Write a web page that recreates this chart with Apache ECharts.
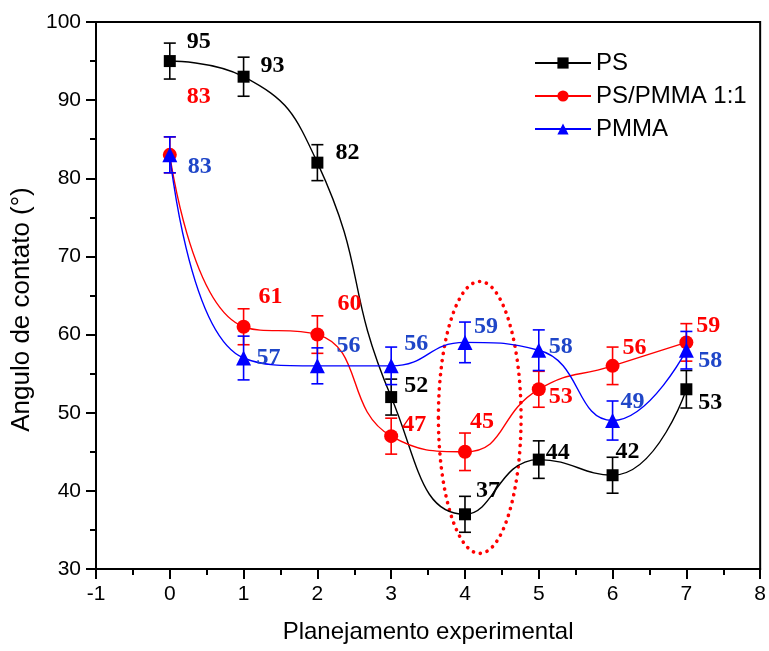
<!DOCTYPE html>
<html>
<head>
<meta charset="utf-8">
<script src="https://cdn.jsdelivr.net/npm/echarts@6/dist/echarts.min.js"></script>
<style>
  html, body { margin: 0; padding: 0; background: #fff; }
  #chart { width: 769px; height: 651px; }
</style>
</head>
<body>
<div id="chart"></div>
<script>
// Experimental runs (x) and contact angles (degrees)
const runs = [0, 1, 2, 3, 4, 5, 6, 7];
const psAngle = [95, 93, 82, 52, 37, 44, 42, 53];
const blendAngle = [83, 61, 60, 47, 45, 53, 56, 59];
const pmmaAngle = [83, 57, 56, 56, 59, 58, 49, 58];
const psErr = [2.3, 2.5, 2.3, 2.3, 2.3, 2.4, 2.3, 2.4];
const blendErr = [2.3, 2.3, 2.4, 2.3, 2.4, 2.3, 2.4, 2.4];
const pmmaErr = [2.3, 2.8, 2.3, 2.4, 2.6, 2.6, 2.5, 2.4];
const yTicks = [30, 40, 50, 60, 70, 80, 90, 100];
const xTicks = [-1, 0, 1, 2, 3, 4, 5, 6, 7, 8];

// Highlighted region (dotted ellipse): centre x, centre y, radius x, radius y (data units)
const highlight = [[4.2, 49.4, 0.56, 17.4]];

// Label shifts in pixels (dx, dy) from each marker
const psLabelShift = [[29, -19], [29, -11], [30, -10], [25, -11], [23, -24], [19, -7], [15, -23], [24, 14]];
const blendLabelShift = [[29, -58], [27, -30], [32, -31], [23, -11], [17, -30], [22, 8], [22, -18], [22, -17]];
const pmmaLabelShift = [[30, 12], [25, 0], [31, -20], [25, -22], [21, -16], [22, -3], [20, -19], [24, 11]];

const BLACK = '#000000', RED = '#ff0000', BLUE = '#0000ff', BLUE_TXT = '#1f46c8';
const SANS = '"Liberation Sans", Arial, sans-serif';

function pointData(vals, shifts, color) {
  return runs.map((x, i) => ({
    value: [x, vals[i]],
    label: {
      show: true,
      position: 'inside',
      offset: shifts[i],
      formatter: String(vals[i]),
      color: color,
      fontFamily: '"Liberation Serif", "Times New Roman", serif',
      fontWeight: 'bold',
      fontSize: 24
    }
  }));
}

function errData(vals, errs) {
  return runs.map((x, i) => [x, vals[i], errs[i]]);
}

function errRender(color) {
  return function (params, api) {
    const x = api.value(0), y = api.value(1), e = api.value(2);
    const top = api.coord([x, y + e]);
    const bot = api.coord([x, y - e]);
    const w = 6;
    const st = { stroke: color, lineWidth: 1.6 };
    return {
      type: 'group',
      children: [
        { type: 'line', shape: { x1: top[0], y1: top[1], x2: bot[0], y2: bot[1] }, style: st },
        { type: 'line', shape: { x1: top[0] - w, y1: top[1], x2: top[0] + w, y2: top[1] }, style: st },
        { type: 'line', shape: { x1: bot[0] - w, y1: bot[1], x2: bot[0] + w, y2: bot[1] }, style: st }
      ]
    };
  };
}

const chart = echarts.init(document.getElementById('chart'), null, { renderer: 'canvas' });

chart.setOption({
  animation: false,
  backgroundColor: '#fff',
  grid: { left: 96, right: 7, top: 22, bottom: 82, show: true, borderColor: '#000', borderWidth: 2, backgroundColor: 'transparent' },
  legend: {
    data: ['PS', 'PS/PMMA 1:1', 'PMMA'],
    orient: 'vertical',
    left: 529,
    top: 46,
    itemWidth: 56,
    itemHeight: 14,
    itemGap: 9,
    selectedMode: false,
    textStyle: { fontFamily: SANS, fontSize: 24, color: '#000' }
  },
  xAxis: {
    type: 'value',
    min: xTicks[0],
    max: xTicks[xTicks.length - 1],
    interval: 1,
    name: 'Planejamento experimental',
    nameLocation: 'middle',
    nameGap: 51,
    nameTextStyle: { fontFamily: SANS, color: '#000', fontSize: 24 },
    axisLine: { show: true, onZero: false, lineStyle: { color: '#000', width: 2 } },
    axisTick: { show: true, inside: false, length: 10, lineStyle: { color: '#000', width: 2 } },
    minorTick: { show: true, splitNumber: 2, length: 6, lineStyle: { color: '#000', width: 2 } },
    axisLabel: { fontFamily: SANS, color: '#000', fontSize: 21, margin: 15 },
    splitLine: { show: false }
  },
  yAxis: {
    type: 'value',
    min: yTicks[0],
    max: yTicks[yTicks.length - 1],
    interval: 10,
    name: 'Angulo de contato (°)',
    nameLocation: 'middle',
    nameGap: 60,
    nameRotate: 90,
    nameTextStyle: { fontFamily: SANS, color: '#000', fontSize: 26, padding: [0, 28, 0, 0] },
    axisLine: { show: true, onZero: false, lineStyle: { color: '#000', width: 2 } },
    axisTick: { show: true, inside: false, length: 10, lineStyle: { color: '#000', width: 2 } },
    minorTick: { show: true, splitNumber: 2, length: 6, lineStyle: { color: '#000', width: 2 } },
    axisLabel: { fontFamily: SANS, color: '#000', fontSize: 21, margin: 15 },
    splitLine: { show: false }
  },
  series: [
    {
      type: 'custom', name: 'ellipse', silent: true, z: 1,
      data: highlight,
      renderItem: function (params, api) {
        const c = api.coord([api.value(0), api.value(1)]);
        const s = api.size([api.value(2), api.value(3)]);
        return {
          type: 'ellipse',
          shape: { cx: c[0], cy: c[1], rx: s[0], ry: s[1] },
          style: { fill: 'none', stroke: RED, lineWidth: 3.6, lineDash: [0.1, 7], lineCap: 'round' }
        };
      }
    },
    { type: 'custom', name: 'psErr', silent: true, z: 2, data: errData(psAngle, psErr), renderItem: errRender(BLACK) },
    {
      type: 'line', name: 'PS', z: 3, smooth: 0.5,
      symbol: 'rect', symbolSize: 12,
      itemStyle: { color: BLACK },
      lineStyle: { color: BLACK, width: 1.4 },
      data: pointData(psAngle, psLabelShift, BLACK)
    },
    { type: 'custom', name: 'blendErr', silent: true, z: 4, data: errData(blendAngle, blendErr), renderItem: errRender(RED) },
    {
      type: 'line', name: 'PS/PMMA 1:1', z: 5, smooth: 0.5,
      symbol: 'circle', symbolSize: 14,
      itemStyle: { color: RED },
      lineStyle: { color: RED, width: 1.4 },
      data: pointData(blendAngle, blendLabelShift, RED)
    },
    { type: 'custom', name: 'pmmaErr', silent: true, z: 6, data: errData(pmmaAngle, pmmaErr), renderItem: errRender(BLUE) },
    {
      type: 'line', name: 'PMMA', z: 7, smooth: 0.5,
      symbol: 'triangle', symbolSize: 15,
      itemStyle: { color: BLUE },
      lineStyle: { color: BLUE, width: 1.4 },
      data: pointData(pmmaAngle, pmmaLabelShift, BLUE_TXT)
    }
  ]
});
</script>
</body>
</html>
